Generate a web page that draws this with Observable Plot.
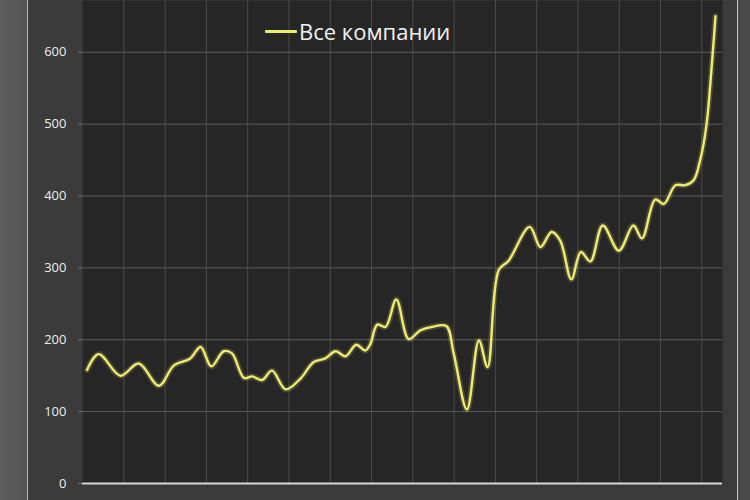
<!DOCTYPE html>
<html>
<head>
<meta charset="utf-8">
<script src="https://cdn.jsdelivr.net/npm/d3@7"></script>
<script src="https://cdn.jsdelivr.net/npm/@observablehq/plot@0.6"></script>
<style>
  html, body { margin: 0; padding: 0; }
  body { width: 750px; height: 500px; overflow: hidden; background: #4c4c4c; position: relative; font-family: "Open Sans", sans-serif; }
  #leftStrip { position: absolute; left: 0; top: 0; width: 27px; height: 500px; background: linear-gradient(to right, #5e5e5e, #545454); }
  #leftLine { position: absolute; left: 27px; top: 0; width: 1px; height: 500px; background: #b8b8b8; }
  #panel { position: absolute; left: 28px; top: 0; width: 709px; height: 500px; background: #3b3b3b; }
  #rightLine { position: absolute; left: 737px; top: 0; width: 1px; height: 500px; background: #c8c8c8; }
  #rightStrip { position: absolute; left: 738px; top: 0; width: 12px; height: 500px; background: #4a4a4a; }
  #chart { position: absolute; left: 0; top: 0; }
  #legend { position: absolute; left: 265px; top: 16px; height: 30px; line-height: 30px; display: flex; align-items: center; color: #f2f2f2; font-size: 22px; font-family: "Open Sans", sans-serif; }
  #legend .sw { width: 32px; height: 3px; background: #eeea6e; margin-right: 2px; border-radius: 1px; }
</style>
</head>
<body>
<div id="leftStrip"></div>
<div id="leftLine"></div>
<div id="panel"></div>
<div id="rightLine"></div>
<div id="rightStrip"></div>
<div id="chart"></div>
<div id="legend"><div class="sw"></div><span>Все компании</span></div>
<script>
// time position (years) and value of the "Все компании" series
const t = [2005.11, 2005.39, 2005.92, 2006.36, 2006.85, 2007.21, 2007.61, 2007.86, 2008.12, 2008.42,
           2008.62, 2008.91, 2009.11, 2009.35, 2009.59, 2009.92, 2010.28, 2010.60, 2010.88, 2011.13,
           2011.37, 2011.63, 2011.85, 2011.97, 2012.14, 2012.34, 2012.60, 2012.90, 2013.18, 2013.47,
           2013.81, 2013.99, 2014.31, 2014.60, 2014.81, 2015.08, 2015.32, 2015.83, 2016.09, 2016.36,
           2016.57, 2016.84, 2017.07, 2017.30, 2017.60, 2017.99, 2018.34, 2018.55, 2018.87, 2019.08,
           2019.36, 2019.60, 2019.80, 2019.96, 2020.11, 2020.25, 2020.33];
const values = [158, 180, 150, 167, 136, 164, 174, 190, 163, 184,
                181, 147, 149, 144, 157, 131, 146, 169, 174, 184,
                177, 193, 185, 194, 221, 218, 256, 201, 213, 218,
                219, 181, 103, 199, 162, 297, 310, 357, 329, 350,
                338, 284, 322, 309, 359, 324, 359, 341, 395, 389,
                415, 415, 422, 450, 498, 589, 650];
const yTicks = [0, 100, 200, 300, 400, 500, 600];
const xGrid = d3.range(2006, 2021);

const data = t.map((d, i) => ({t: d, v: values[i]}));

const chart = Plot.plot({
  width: 750,
  height: 500,
  marginLeft: 82,
  marginRight: 28,
  marginTop: 0,
  marginBottom: 17,
  style: {background: "transparent", color: "#e6e6e6", fontFamily: "Open Sans, sans-serif", fontSize: "13px"},
  x: {domain: [2005, 2020.5], axis: null},
  y: {domain: [0, 672], ticks: yTicks, tickSize: 4, tickPadding: 12, label: null},
  marks: [
    Plot.frame({fill: "#262626", stroke: null}),
    Plot.ruleX(xGrid, {stroke: "#4a4a4a", strokeWidth: 1}),
    Plot.ruleY(yTicks.filter(d => d > 0), {stroke: "#5c5c5c", strokeWidth: 1}),
    Plot.axisY({ticks: yTicks, tickSize: 4, tickPadding: 12, stroke: "#6a6a6a", fill: "#ececec", fontSize: 13, label: null}),
    Plot.ruleY([0], {stroke: "#d8d8d8", strokeWidth: 2}),
    Plot.line(data, {x: "t", y: "v", curve: "catmull-rom", stroke: "#eeea6e", strokeWidth: 6, strokeOpacity: 0.18}),
    Plot.line(data, {x: "t", y: "v", curve: "catmull-rom", stroke: "#efeb72", strokeWidth: 2.4})
  ]
});
document.getElementById("chart").appendChild(chart);
</script>
</body>
</html>
